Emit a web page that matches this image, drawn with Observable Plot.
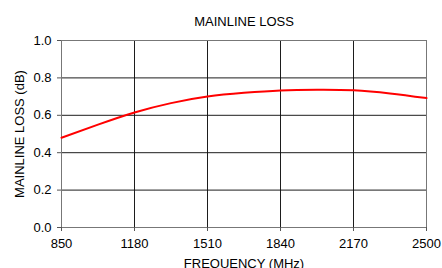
<!DOCTYPE html>
<html>
<head>
<meta charset="utf-8">
<script src="https://cdn.jsdelivr.net/npm/d3@7"></script>
<script src="https://cdn.jsdelivr.net/npm/@observablehq/plot@0.6"></script>
<style>
  html, body { margin: 0; padding: 0; background: #fff; }
  #chart svg { display: block; }
</style>
</head>
<body>
<div id="chart"></div>
<script>
const frequency = [850, 1015, 1180, 1345, 1510, 1675, 1840, 2005, 2170, 2335, 2500];
const loss = [0.48, 0.55, 0.615, 0.665, 0.70, 0.72, 0.733, 0.737, 0.734, 0.717, 0.692];
const xTicks = [850, 1180, 1510, 1840, 2170, 2500];
const yTicks = [0.0, 0.2, 0.4, 0.6, 0.8, 1.0];
const title = "MAINLINE LOSS";
const xLabel = "FREQUENCY (MHz)";
const yLabel = "MAINLINE LOSS (dB)";

const data = frequency.map((f, i) => ({f, v: loss[i]}));
const xInner = xTicks.slice(1, -1);
const yInner = yTicks.slice(1, -1);
const fs = 13;

const chart = Plot.plot({
  width: 442,
  height: 268,
  marginLeft: 61,
  marginRight: 16,
  marginTop: 40,
  marginBottom: 41,
  style: {fontFamily: "'Liberation Sans', Arial, sans-serif", fontSize: fs + "px", color: "#000", background: "#fff"},
  x: {domain: [850, 2500], label: null},
  y: {domain: [0, 1], label: null},
  marks: [
    Plot.gridX(xInner, {stroke: "#111", strokeOpacity: 0.95, strokeWidth: 1}),
    Plot.gridY(yInner, {stroke: "#111", strokeOpacity: 0.95, strokeWidth: 1}),
    Plot.frame({stroke: "#777", strokeWidth: 1}),
    Plot.axisX(xTicks, {tickSize: 4, tickPadding: 7, fontSize: fs, stroke: "#555", tickFormat: d => String(d), label: null}),
    Plot.axisY(yTicks, {tickSize: 4, tickPadding: 6, fontSize: fs, stroke: "#555", tickFormat: d3.format(".1f"), label: null}),
    Plot.line(data, {x: "f", y: "v", stroke: "#ff0000", strokeWidth: 2, curve: "natural"}),
    Plot.text([title], {frameAnchor: "top", dy: -24, fontSize: fs, fill: "#000"}),
    Plot.text([xLabel], {frameAnchor: "bottom", dy: 40, fontSize: fs, fill: "#000"}),
    Plot.text([yLabel], {frameAnchor: "left", dx: -42, rotate: -90, textAnchor: "middle", fontSize: fs, fill: "#000"})
  ]
});
document.getElementById("chart").append(chart);
</script>
</body>
</html>
